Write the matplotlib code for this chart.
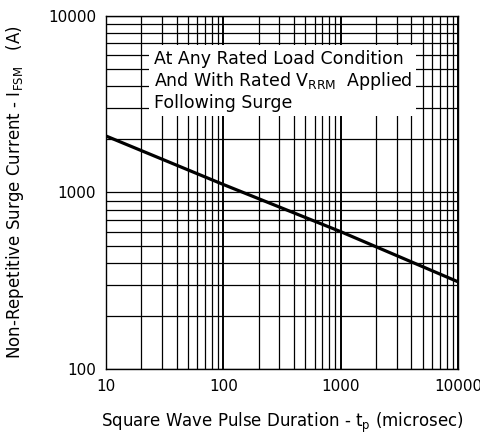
import numpy as np
import matplotlib
matplotlib.use("Agg")
from matplotlib import pyplot as plt
from matplotlib.ticker import LogLocator, NullFormatter

# surge curve (log-log straight line)
pulse_us = [10, 100, 1000, 10000]
ifsm_a = [2090, 1110, 600, 312]

x_ticks = [10, 100, 1000, 10000]
y_ticks = [100, 1000, 10000]

plt.rcParams['font.family'] = ['DejaVu Sans']
plt.rcParams['mathtext.default'] = 'regular'

fig = plt.figure(figsize=(4.81, 4.36), dpi=100)
ax = fig.add_axes([106/481, 1 - 369/436, 352/481, 353/436])

ax.set_xscale('log')
ax.set_yscale('log')
ax.set_xlim(10, 10000)
ax.set_ylim(100, 10000)

ax.xaxis.set_minor_locator(LogLocator(base=10, subs=np.arange(2, 10)))
ax.yaxis.set_minor_locator(LogLocator(base=10, subs=np.arange(2, 10)))
ax.xaxis.set_minor_formatter(NullFormatter())
ax.yaxis.set_minor_formatter(NullFormatter())
ax.set_xticks(x_ticks)
ax.set_yticks(y_ticks)
ax.set_xticklabels([str(v) for v in x_ticks])
ax.set_yticklabels([str(v) for v in y_ticks])

ax.grid(True, which='both', color='black', linewidth=0.9)
ax.xaxis.grid(True, which='major', color='black', linewidth=1.4)  # decade lines a bit heavier
ax.tick_params(which='both', length=0, labelsize=11, pad=7)
for s in ax.spines.values():
    s.set_linewidth(1.0)

ax.plot(pulse_us, ifsm_a, color='black', linewidth=2.3, zorder=5)

ax.text(0.135, 0.905,
        'At Any Rated Load Condition\nAnd With Rated V$_{RRM}$  Applied\nFollowing Surge',
        transform=ax.transAxes, fontsize=12.5, va='top', ha='left', linespacing=1.15,
        bbox=dict(facecolor='white', edgecolor='none', pad=3), zorder=6)

ax.set_xlabel('Square Wave Pulse Duration - t$_p$ (microsec)', fontsize=12, labelpad=12)
ax.set_ylabel('Non-Repetitive Surge Current - I$_{FSM}$   (A)', fontsize=12, labelpad=16)

fig.savefig('out.png', dpi=100)
